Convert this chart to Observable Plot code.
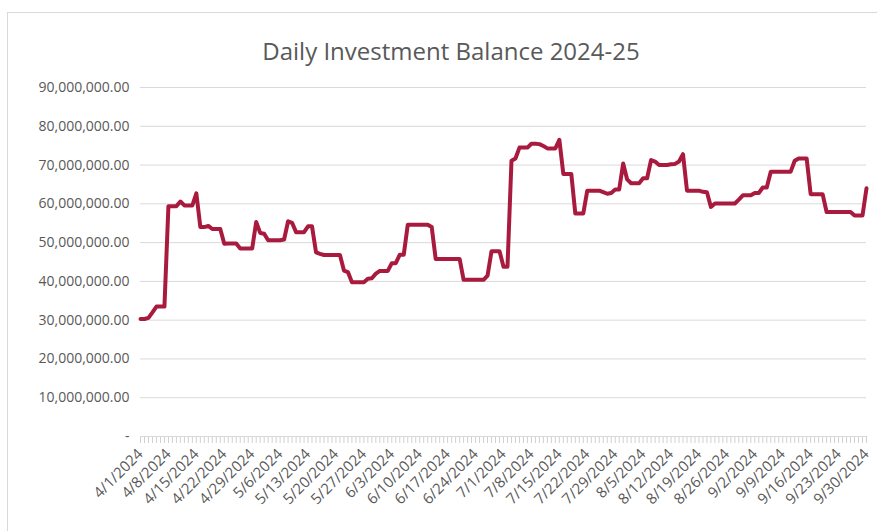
<!DOCTYPE html>
<html><head><meta charset="utf-8">
<script src="https://cdn.jsdelivr.net/npm/d3@7"></script>
<script src="https://cdn.jsdelivr.net/npm/@observablehq/plot@0.6"></script>
<style>
body{margin:0;background:#fff;}
#wrap{position:relative;width:877px;height:531px;overflow:hidden;background:#fff;font-family:"Open Sans",sans-serif;}
#frame{position:absolute;left:7px;top:12px;width:900px;height:600px;border:1px solid #d9d9d9;box-sizing:border-box;}
#title{position:absolute;left:0;top:35px;width:902px;text-align:center;font-size:24px;line-height:32px;color:#595959;}
#chart{position:absolute;left:0;top:70px;}
</style></head><body>
<div id="wrap"><div id="frame"></div><div id="title">Daily Investment Balance 2024-25</div><div id="chart"></div></div>
<script>
// Series: daily balance in millions, starting 4/1/2024
const startDate = "2024-04-01";
const balanceMillions = [
  30.3, 30.3, 30.6, 32.0, 33.5, 33.5, 33.5,
  59.4, 59.4, 59.4, 60.6, 59.6, 59.6, 59.6,
  62.7, 54.0, 54.0, 54.3, 53.5, 53.5, 53.5,
  49.7, 49.8, 49.8, 49.8, 48.5, 48.5, 48.5,
  48.5, 55.3, 52.5, 52.3, 50.6, 50.6, 50.6,
  50.6, 50.8, 55.5, 55.1, 52.7, 52.7, 52.7,
  54.2, 54.2, 47.5, 47.1, 46.8, 46.8, 46.8,
  46.8, 46.8, 42.8, 42.4, 39.8, 39.8, 39.8,
  39.8, 40.7, 40.8, 42.0, 42.7, 42.7, 42.7,
  44.7, 44.7, 46.9, 46.9, 54.6, 54.6, 54.6,
  54.6, 54.6, 54.6, 54.0, 45.8, 45.8, 45.8,
  45.8, 45.8, 45.8, 45.8, 40.4, 40.4, 40.4,
  40.4, 40.4, 40.4, 41.5, 47.8, 47.8, 47.8,
  43.8, 43.8, 71.1, 71.7, 74.5, 74.5, 74.5,
  75.5, 75.5, 75.4, 74.9, 74.3, 74.3, 74.3,
  76.5, 67.7, 67.7, 67.7, 57.5, 57.5, 57.5,
  63.4, 63.4, 63.4, 63.4, 63.0, 62.6, 62.8,
  63.7, 63.7, 70.4, 66.3, 65.3, 65.3, 65.3,
  66.6, 66.6, 71.3, 70.9, 70.0, 70.0, 70.0,
  70.2, 70.3, 70.9, 72.8, 63.4, 63.4, 63.4,
  63.4, 63.1, 63.0, 59.2, 60.1, 60.1, 60.1,
  60.1, 60.1, 60.1, 61.1, 62.2, 62.2, 62.2,
  62.8, 62.8, 64.2, 64.2, 68.3, 68.3, 68.3,
  68.3, 68.3, 68.3, 71.1, 71.7, 71.7, 71.7,
  62.5, 62.5, 62.5, 62.5, 57.9, 57.9, 57.9,
  57.9, 57.9, 57.9, 57.9, 57.0, 57.0, 57.0,
  64.0
];
const yTicks = [0, 10e6, 20e6, 30e6, 40e6, 50e6, 60e6, 70e6, 80e6, 90e6];
const labelStepDays = 7;

const start = new Date(startDate + "T00:00:00Z");
const dates = balanceMillions.map((_, i) => d3.utcDay.offset(start, i));
const data = dates.map((d, i) => ({date: d, value: balanceMillions[i] * 1e6}));
const labelDates = dates.filter((_, i) => i % labelStepDays === 0);
const fmtNum = d3.format(",.2f");
const fmtDate = d => `${d.getUTCMonth() + 1}/${d.getUTCDate()}/${d.getUTCFullYear()}`;

const chart = Plot.plot({
  width: 877,
  height: 461,
  marginTop: 17,
  marginBottom: 95,
  marginLeft: 140,
  marginRight: 11,
  style: {fontFamily: "'Open Sans', sans-serif", fontSize: "14px", color: "#595959", background: "transparent"},
  x: {type: "utc", domain: [dates[0], dates[dates.length - 1]]},
  y: {domain: [0, 90e6]},
  marks: [
    Plot.gridY(yTicks, {stroke: "#d9d9d9", strokeOpacity: 1, strokeWidth: 1}),
    Plot.axisY(yTicks, {tickSize: 0, tickPadding: 11, tickFormat: v => v === 0 ? "-" : fmtNum(v), fill: "#595959", fontSize: 14, label: null}),
    Plot.axisX(dates, {tickSize: 7, stroke: "#d0d0d0", tickFormat: () => "", label: null}),
    Plot.axisX(labelDates, {tickSize: 0, tickPadding: 15, tickRotate: -45, tickFormat: fmtDate, fill: "#595959", fontSize: 15, label: null}),
    Plot.ruleY([0], {stroke: "#d9d9d9", strokeWidth: 1}),
    Plot.line(data, {x: "date", y: "value", stroke: "#A91B3E", strokeWidth: 4, strokeLinejoin: "round", curve: "linear"})
  ]
});
document.getElementById("chart").appendChild(chart);
</script>
</body></html>
